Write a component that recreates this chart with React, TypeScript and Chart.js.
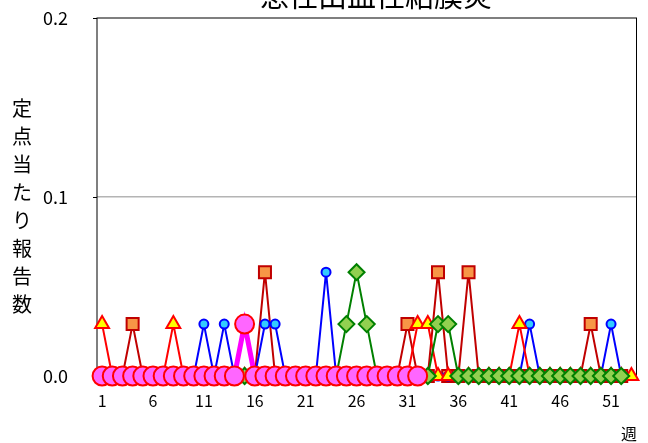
import { useEffect, useRef } from "react";
import { Chart, registerables } from "chart.js";

Chart.register(...registerables);

const weeks = [
  "1", "2", "3", "4", "5", "6", "7", "8", "9", "10",
  "11", "12", "13", "14", "15", "16", "17", "18", "19", "20",
  "21", "22", "23", "24", "25", "26", "27", "28", "29", "30",
  "31", "32", "33", "34", "35", "36", "37", "38", "39", "40",
  "41", "42", "43", "44", "45", "46", "47", "48", "49", "50",
  "51", "52", "53",
];

const yTicks = [0, 0.1, 0.2];

// current year (weeks 1-32)
const seriesCurrent = [
  0, 0, 0, 0, 0, 0, 0, 0, 0, 0,
  0, 0, 0, 0, 0.029, 0, 0, 0, 0, 0,
  0, 0, 0, 0, 0, 0, 0, 0, 0, 0,
  0, 0, null, null, null, null, null, null, null, null,
  null, null, null, null, null, null, null, null, null, null,
  null, null, null,
];

const seriesDiamond = [
  0, 0, 0, 0, 0, 0, 0, 0, 0, 0,
  0, 0, 0, 0, 0, 0, 0, 0, 0, 0,
  0, 0, 0, 0, 0.029, 0.058, 0.029, 0, 0, 0,
  0, 0, 0, 0.029, 0.029, 0, 0, 0, 0, 0,
  0, 0, 0, 0, 0, 0, 0, 0, 0, 0,
  0, 0, null,
];

const seriesTriangle = [
  0.029, 0, 0, 0, 0, 0, 0, 0.029, 0, 0,
  0, 0, 0, 0, 0, 0, 0, 0, 0, 0,
  0, 0, 0, 0, 0, 0, 0, 0, 0, 0,
  0, 0.029, 0.029, 0, 0, 0, 0, 0, 0, 0,
  0, 0.029, 0, 0, 0, 0, 0, 0, 0, 0,
  0, 0, 0,
];

const seriesCircle = [
  0, 0, 0, 0, 0, 0, 0, 0, 0, 0,
  0.029, 0, 0.029, 0, 0, 0, 0.029, 0.029, 0, 0,
  0, 0, 0.058, 0, 0, 0, 0, 0, 0, 0,
  0, 0, 0, 0, 0, 0, 0, 0, 0, 0,
  0, 0, 0.029, 0, 0, 0, 0, 0, 0, 0,
  0.029, 0, null,
];

const seriesSquare = [
  0, 0, 0, 0.029, 0, 0, 0, 0, 0, 0,
  0, 0, 0, 0, 0, 0, 0.058, 0, 0, 0,
  0, 0, 0, 0, 0, 0, 0, 0, 0, 0,
  0.029, 0, 0, 0.058, 0, 0, 0.058, 0, 0, 0,
  0, 0, 0, 0, 0, 0, 0, 0, 0.029, 0,
  0, 0, null,
];

const chartTitle = "急性出血性結膜炎";
const yTitle = "定点当たり報告数";
const xTitle = "週";

const JP = "'Noto Sans CJK JP', 'Noto Sans', sans-serif";

const decor = {
  id: "decor",
  beforeDatasetsDraw(chart: any) {
    const { ctx, chartArea: a } = chart;
    ctx.save();
    ctx.strokeStyle = "#000";
    ctx.lineWidth = 1;
    ctx.strokeRect(a.left, a.top, a.right - a.left, a.bottom - a.top);
    const ys = chart.scales.y;
    ctx.beginPath();
    for (const v of yTicks) {
      const py = Math.round(ys.getPixelForValue(v)) + 0.5;
      ctx.moveTo(a.left - 4, py);
      ctx.lineTo(a.left, py);
    }
    ctx.stroke();
    ctx.restore();
  },
  afterDraw(chart: any) {
    const { ctx } = chart;
    ctx.save();
    ctx.fillStyle = "#000";
    ctx.textAlign = "center";
    ctx.font = `29px ${JP}`;
    ctx.textBaseline = "alphabetic";
    ctx.fillText(chartTitle, 376, 7);
    ctx.font = `20px ${JP}`;
    ctx.textBaseline = "middle";
    const chars = Array.from(yTitle);
    chars.forEach((c, i) => ctx.fillText(c, 22, 108 + i * 28));
    ctx.font = `16px ${JP}`;
    ctx.fillText(xTitle, 629, 434);
    ctx.restore();
  },
};

export default function App() {
  const ref = useRef<HTMLCanvasElement | null>(null);
  useEffect(() => {
    document.body.style.margin = "0";
    const canvas = ref.current;
    if (!canvas) return;
    const chart = new Chart(canvas, {
      type: "line",
      data: {
        labels: weeks,
        datasets: [
          {
            label: "今年",
            data: seriesCurrent,
            borderColor: "#ff00ff",
            borderWidth: 5,
            pointStyle: "circle",
            pointRadius: 9.5,
            pointBackgroundColor: "#ff66ff",
            pointBorderColor: "#ff0000",
            pointBorderWidth: 2,
            clip: false,
          },
          {
            label: "系列B",
            data: seriesDiamond,
            borderColor: "#008000",
            borderWidth: 2,
            pointStyle: "rectRot",
            pointRadius: 8,
            pointBackgroundColor: "#92d050",
            pointBorderColor: "#008000",
            pointBorderWidth: 2,
            clip: false,
          },
          {
            label: "系列C",
            data: seriesTriangle,
            borderColor: "#ff0000",
            borderWidth: 2,
            pointStyle: "triangle",
            pointRadius: 8,
            pointBackgroundColor: "#ffff00",
            pointBorderColor: "#ff0000",
            pointBorderWidth: 2,
            clip: false,
          },
          {
            label: "系列D",
            data: seriesCircle,
            borderColor: "#0000ff",
            borderWidth: 2,
            pointStyle: "circle",
            pointRadius: 4.5,
            pointBackgroundColor: "#33ccff",
            pointBorderColor: "#0000ff",
            pointBorderWidth: 2,
            clip: false,
          },
          {
            label: "系列E",
            data: seriesSquare,
            borderColor: "#c00000",
            borderWidth: 2,
            pointStyle: "rect",
            pointRadius: 8.5,
            pointBackgroundColor: "#f79646",
            pointBorderColor: "#c00000",
            pointBorderWidth: 2,
            clip: false,
          },
        ],
      },
      options: {
        animation: false,
        responsive: false,
        spanGaps: false,
        layout: { padding: { top: 18, right: 11, left: 0, bottom: 0 } },
        plugins: {
          legend: { display: false },
          title: { display: false },
          tooltip: { enabled: false },
        },
        scales: {
          x: {
            type: "category",
            offset: true,
            grid: { display: false, drawTicks: false },
            border: { display: false },
            afterFit: (s: any) => {
              s.height = 67;
              s.paddingLeft = 0;
              s.paddingRight = 0;
            },
            ticks: {
              autoSkip: false,
              maxRotation: 0,
              padding: 15,
              color: "#000",
              font: { family: JP, size: 16 },
              callback: (_v: any, i: number) => (i % 5 === 0 ? weeks[i] : ""),
            },
          },
          y: {
            min: 0,
            max: 0.2,
            afterFit: (s: any) => {
              s.width = 97;
              s.paddingTop = 0;
              s.paddingBottom = 0;
            },
            afterBuildTicks: (s: any) => {
              s.ticks = yTicks.map((v) => ({ value: v }));
            },
            grid: {
              drawTicks: false,
              color: (c: any) => (c.tick && c.tick.value === 0.1 ? "#b4b4b4" : "rgba(0,0,0,0)"),
              lineWidth: 1.5,
            },
            border: { display: false },
            ticks: {
              padding: 29,
              color: "#000",
              font: { family: JP, size: 18 },
              callback: (v: any) => Number(v).toFixed(1),
            },
          },
        },
      },
      plugins: [decor],
    });
    return () => chart.destroy();
  }, []);
  return (
    <div style={{ position: "relative", width: 648, height: 443 }}>
      <canvas ref={ref} width={648} height={443} />
    </div>
  );
}
